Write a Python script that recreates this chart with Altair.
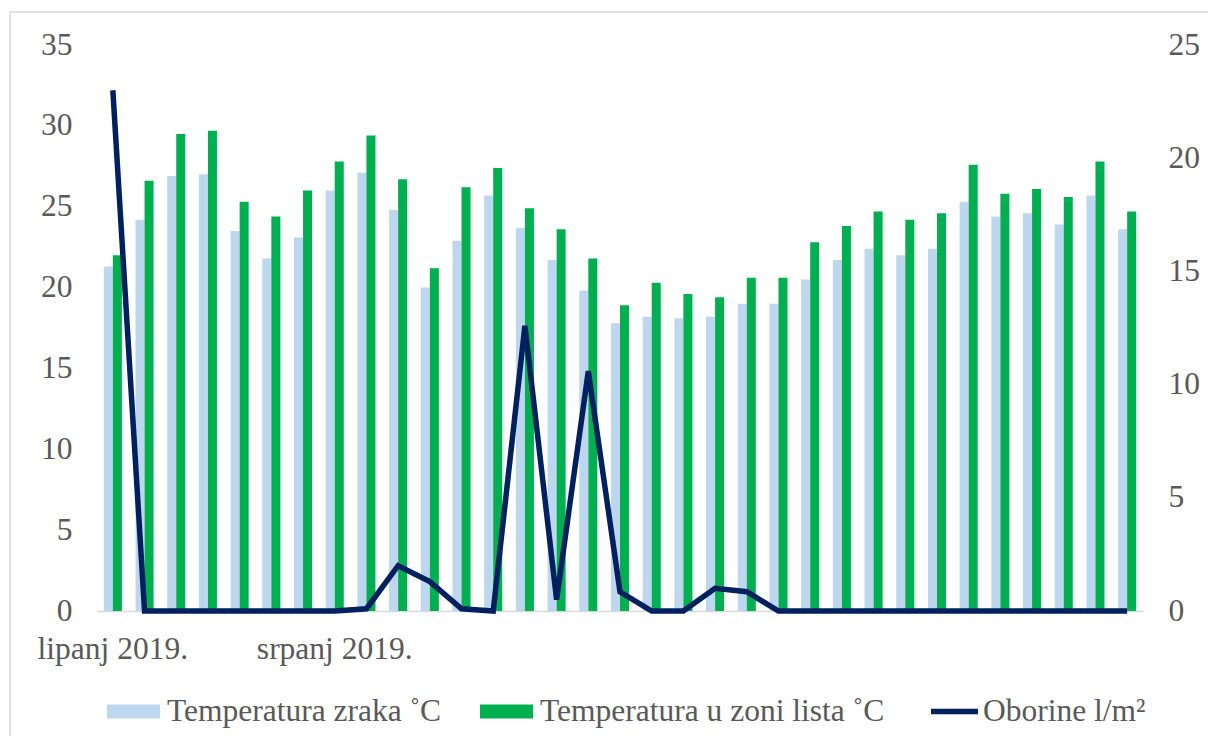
import altair as alt
import pandas as pd

# ---- data ----
categories = list(range(1, 34))
temp_zraka = [21.3, 24.2, 26.9, 27.0, 23.5, 21.8, 23.1, 26.0, 27.1, 24.8, 20.0,
              22.9, 25.7, 23.7, 21.7, 19.8, 17.8, 18.2, 18.1, 18.2, 19.0, 19.0,
              20.5, 21.7, 22.4, 22.0, 22.4, 25.3, 24.4, 24.6, 23.9, 25.7, 23.6]
temp_lista = [22.0, 26.6, 29.5, 29.7, 25.3, 24.4, 26.0, 27.8, 29.4, 26.7, 21.2,
              26.2, 27.4, 24.9, 23.6, 21.8, 18.9, 20.3, 19.6, 19.4, 20.6, 20.6,
              22.8, 23.8, 24.7, 24.2, 24.6, 27.6, 25.8, 26.1, 25.6, 27.8, 24.7]
oborine = [23.0, 0, 0, 0, 0, 0, 0, 0, 0.1, 2.0, 1.3, 0.1, 0, 12.6, 0.5, 10.6,
           0.85, 0, 0, 1.0, 0.85, 0, 0, 0, 0, 0, 0, 0, 0, 0, 0, 0, 0]

series_names = ["Temperatura zraka ˚C", "Temperatura u zoni lista ˚C", "Oborine l/m²"]
series_colors = ["#BDD7EE", "#00B050", "#002060"]

x_tick_pos = [1, 8]
x_tick_text = ["lipanj 2019.", "srpanj 2019."]
y_left_ticks = [0, 5, 10, 15, 20, 25, 30, 35]
y_right_ticks = [0, 5, 10, 15, 20, 25]

FONT = "Liberation Serif"
TXT = "#595959"
FS = 31.5

# ---- tables ----
bar_rows = []
for c, a, b in zip(categories, temp_zraka, temp_lista):
    bar_rows.append({"cat": c, "series": series_names[0], "value": a})
    bar_rows.append({"cat": c, "series": series_names[1], "value": b})
df_bars = pd.DataFrame(bar_rows)
df_line = pd.DataFrame({"cat": categories, "value": oborine,
                        "series": [series_names[2]] * len(categories)})

label_expr = " : ".join(
    f"datum.value == {p} ? '{t}'" for p, t in zip(x_tick_pos, x_tick_text)
) + " : ''"

x_enc = alt.X(
    "cat:O",
    scale=alt.Scale(paddingInner=0.43, paddingOuter=0.215),
    axis=alt.Axis(
        title=None, values=x_tick_pos, labelExpr=label_expr, labelAngle=0,
        ticks=False, labelPadding=22, domainColor="#D9D9D9", domainWidth=1.5,
        labelOverlap=False, labelFont=FONT, labelFontSize=FS, labelColor=TXT,
        grid=False,
    ),
)

bars = alt.Chart(df_bars).mark_bar().encode(
    x=x_enc,
    xOffset=alt.XOffset("series:N",
                        scale=alt.Scale(domain=series_names[:2], paddingInner=0, paddingOuter=0)),
    y=alt.Y("value:Q", scale=alt.Scale(domain=[0, 35]),
            axis=alt.Axis(orient="left", title=None, values=y_left_ticks, domain=False,
                          ticks=False, grid=False, labelPadding=25, labelFont=FONT,
                          labelFontSize=FS, labelColor=TXT)),
    fill=alt.Fill("series:N",
                  scale=alt.Scale(domain=series_names[:2], range=series_colors[:2]),
                  legend=alt.Legend(orient="none", legendX=10, legendY=640,
                                    direction="horizontal", title=None,
                                    symbolType="M-1,-0.264H1V0.264H-1Z", symbolSize=2809,
                                    symbolStrokeWidth=0, labelOffset=7, columnPadding=38,
                                    labelFont=FONT, labelFontSize=FS, labelColor=TXT,
                                    labelLimit=1000)),
)

line = alt.Chart(df_line).mark_line(strokeWidth=5.5).encode(
    x=x_enc,
    y=alt.Y("value:Q", scale=alt.Scale(domain=[0, 25]),
            axis=alt.Axis(orient="right", title=None, values=y_right_ticks, domain=False,
                          ticks=False, grid=False, labelPadding=25, labelFont=FONT,
                          labelFontSize=FS, labelColor=TXT)),
    stroke=alt.Stroke("series:N",
                      scale=alt.Scale(domain=[series_names[2]], range=[series_colors[2]]),
                      legend=alt.Legend(orient="none", legendX=831, legendY=640,
                                        direction="horizontal", title=None,
                                        symbolType="stroke", symbolSize=2209,
                                        symbolStrokeWidth=5.5, labelOffset=2,
                                        labelFont=FONT, labelFontSize=FS,
                                        labelColor=TXT, labelLimit=1000)),
)

frame = alt.Chart(alt.Data(values=[{"a": 1}])).mark_rect(
    filled=False, stroke="#D9D9D9", strokeWidth=1.5
).encode(
    x=alt.value(-87), x2=alt.value(1135), y=alt.value(-33), y2=alt.value(720)
)

chart = alt.layer(frame, bars, line).resolve_scale(y="independent").properties(
    width=1046, height=566,
    autosize=alt.AutoSizeParams(type="none"),
    padding={"left": 89, "top": 37, "right": 65, "bottom": 125},
).configure_view(stroke=None)

chart.save("out.html", embed_options={"renderer": "svg", "actions": False})
